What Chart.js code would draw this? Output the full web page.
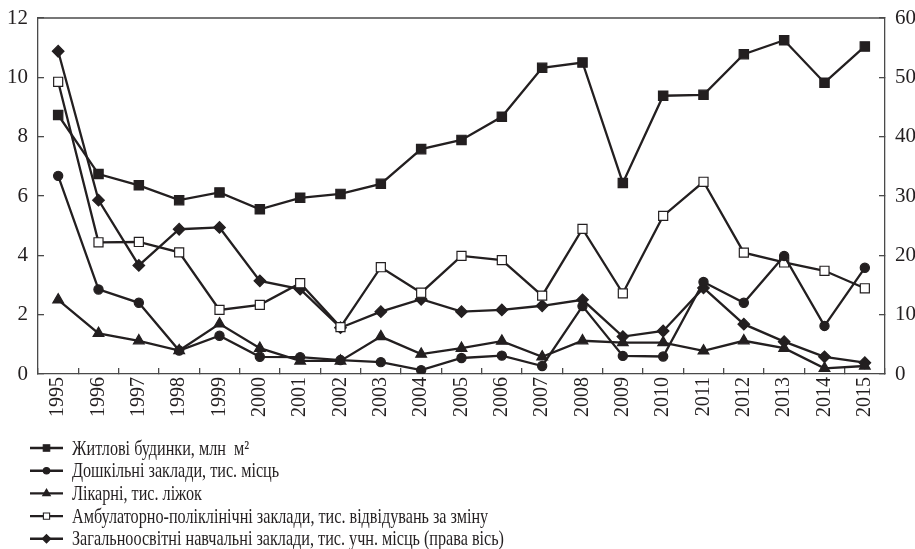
<!DOCTYPE html>
<html>
<head>
<meta charset="utf-8">
<script src="https://cdn.jsdelivr.net/npm/chart.js@4.4.1/dist/chart.umd.min.js"></script>
<style>
  html, body { margin: 0; padding: 0; background: #fff; }
  #wrap { width: 915px; height: 549px; }
</style>
</head>
<body>
<div id="wrap"><canvas id="c" width="915" height="549"></canvas></div>
<script>
const years = ['1995','1996','1997','1998','1999','2000','2001','2002','2003','2004','2005','2006','2007','2008','2009','2010','2011','2012','2013','2014','2015'];

const housing = [8.73, 6.74, 6.36, 5.86, 6.12, 5.55, 5.94, 6.07, 6.41, 7.58, 7.89, 8.67, 10.32, 10.5, 6.44, 9.38, 9.41, 10.78, 11.25, 9.82, 11.04];
const preschool = [6.68, 2.85, 2.40, 0.79, 1.29, 0.58, 0.57, 0.47, 0.40, 0.13, 0.54, 0.62, 0.27, 2.29, 0.61, 0.59, 3.10, 2.40, 3.98, 1.62, 3.58];
const hospitals = [2.50, 1.37, 1.12, 0.79, 1.69, 0.87, 0.44, 0.44, 1.26, 0.67, 0.87, 1.11, 0.58, 1.12, 1.06, 1.06, 0.78, 1.12, 0.87, 0.19, 0.27];
const clinics = [9.85, 4.44, 4.45, 4.10, 2.16, 2.33, 3.06, 1.58, 3.60, 2.74, 3.98, 3.84, 2.64, 4.89, 2.72, 5.33, 6.48, 4.09, 3.76, 3.48, 2.89];
const schools = [54.4, 29.3, 18.3, 24.4, 24.7, 15.7, 14.3, 7.8, 10.5, 12.6, 10.5, 10.8, 11.5, 12.5, 6.3, 7.25, 14.5, 8.4, 5.45, 2.9, 1.9];

const leftTicks = [0, 2, 4, 6, 8, 10, 12];
const rightTicks = [0, 10, 20, 30, 40, 50, 60];

const seriesNames = [
  'Житлові будинки, млн  м²',
  'Дошкільні заклади, тис. місць',
  'Лікарні, тис. ліжок',
  'Амбулаторно-поліклінічні заклади, тис. відвідувань за зміну',
  'Загальноосвітні навчальні заклади, тис. учн. місць (права вісь)'
];

const INK = '#231f20';
const FRAME = '#4a4a4a';

function ds(label, data, style, radius, fill, axis) {
  return {
    label, data, yAxisID: axis,
    borderColor: INK, borderWidth: 2.3, tension: 0, fill: false,
    pointStyle: style, pointRadius: radius, pointHoverRadius: radius,
    pointBackgroundColor: fill, pointBorderColor: INK, pointBorderWidth: 1.2
  };
}

const datasets = [
  ds(seriesNames[0], housing, 'rect', 6.6, INK, 'y'),
  ds(seriesNames[1], preschool, 'circle', 4.6, INK, 'y'),
  ds(seriesNames[2], hospitals, 'triangle', 6.2, INK, 'y'),
  ds(seriesNames[3], clinics, 'rect', 6.4, '#ffffff', 'y'),
  ds(seriesNames[4], schools, 'rectRot', 5.8, INK, 'y2')
];

function marker(ctx, style, x, y, r, fill) {
  ctx.beginPath();
  if (style === 'rect') {
    const s = r * Math.SQRT1_2;
    ctx.rect(x - s, y - s, 2 * s, 2 * s);
  } else if (style === 'circle') {
    ctx.arc(x, y, r, 0, Math.PI * 2);
  } else if (style === 'triangle') {
    ctx.moveTo(x, y - r);
    ctx.lineTo(x + r * Math.sin(2 * Math.PI / 3), y - r * Math.cos(2 * Math.PI / 3));
    ctx.lineTo(x + r * Math.sin(4 * Math.PI / 3), y - r * Math.cos(4 * Math.PI / 3));
    ctx.closePath();
  } else if (style === 'rectRot') {
    ctx.moveTo(x, y - r); ctx.lineTo(x + r, y); ctx.lineTo(x, y + r); ctx.lineTo(x - r, y); ctx.closePath();
  }
  ctx.fillStyle = fill; ctx.fill();
  ctx.lineWidth = 1.1; ctx.strokeStyle = INK; ctx.stroke();
}

const legendPlugin = {
  id: 'customLegend',
  afterDraw(chart) {
    const ctx = chart.ctx;
    const a = chart.chartArea;
    ctx.save();
    // top frame line
    ctx.strokeStyle = FRAME; ctx.lineWidth = 1.3;
    ctx.beginPath(); ctx.moveTo(a.left, a.top); ctx.lineTo(a.right, a.top); ctx.stroke();

    ctx.font = '21px "Liberation Serif"';
    const longest = ctx.measureText(seriesNames[4]).width;
    const sx = 432 / longest;
    const legendStyles = [
      ['rect', 4.6, INK], ['circle', 3.2, INK], ['triangle', 4.4, INK], ['rect', 4.4, '#ffffff'], ['rectRot', 4.2, INK]
    ];
    for (let i = 0; i < seriesNames.length; i++) {
      const y = 448 + i * 22.7;
      ctx.strokeStyle = INK; ctx.lineWidth = 2.4;
      ctx.beginPath(); ctx.moveTo(30, y); ctx.lineTo(63, y); ctx.stroke();
      marker(ctx, legendStyles[i][0], 46.5, y, legendStyles[i][1], legendStyles[i][2]);
      ctx.save();
      ctx.translate(72, y);
      ctx.scale(sx, 1);
      ctx.fillStyle = INK;
      ctx.textBaseline = 'middle';
      ctx.textAlign = 'left';
      ctx.fillText(seriesNames[i], 0, 1);
      ctx.restore();
    }
    ctx.restore();
  }
};

const tickFont = { family: '"Liberation Serif", "Times New Roman", serif', size: 21 };

function fitY(w) {
  return function (s) { s.width = w; s.paddingTop = 0; s.paddingBottom = 0; };
}

new Chart(document.getElementById('c'), {
  type: 'line',
  data: { labels: years, datasets },
  options: {
    responsive: false,
    animation: false,
    devicePixelRatio: 1,
    layout: { padding: { top: 18, left: 0, right: 0, bottom: 0 } },
    plugins: { legend: { display: false }, tooltip: { enabled: false } },
    scales: {
      x: {
        type: 'category',
        offset: true,
        grid: { offset: true, drawOnChartArea: false, drawTicks: true, tickLength: -6, color: FRAME, lineWidth: 1.3 },
        border: { color: FRAME, width: 1.3 },
        ticks: { color: INK, font: { ...tickFont, size: 20 }, minRotation: 90, maxRotation: 90, autoSkip: false, padding: 9 },
        afterFit(s) { s.height = 175; s.paddingLeft = 0; s.paddingRight = 0; }
      },
      y: {
        position: 'left',
        min: 0, max: 12,
        afterBuildTicks(s) { s.ticks = leftTicks.map(v => ({ value: v })); },
        grid: { drawOnChartArea: false, drawTicks: true, tickLength: -6, color: FRAME, lineWidth: 1.3 },
        border: { color: FRAME, width: 1.3 },
        ticks: { color: INK, font: tickFont, padding: 16 },
        afterFit: fitY(38)
      },
      y2: {
        position: 'right',
        min: 0, max: 60,
        afterBuildTicks(s) { s.ticks = rightTicks.map(v => ({ value: v })); },
        grid: { drawOnChartArea: false, drawTicks: true, tickLength: -6, color: FRAME, lineWidth: 1.3 },
        border: { color: FRAME, width: 1.3 },
        ticks: { color: INK, font: tickFont, padding: 16 },
        afterFit: fitY(30)
      }
    }
  },
  plugins: [legendPlugin]
});
</script>
</body>
</html>
